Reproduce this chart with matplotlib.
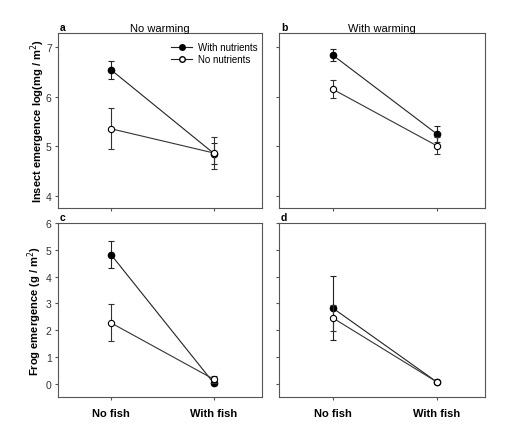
import numpy as np
import matplotlib.pyplot as plt
from matplotlib.lines import Line2D

plt.rcParams['font.family'] = ['Liberation Sans', 'DejaVu Sans']
plt.rcParams['font.size'] = 7.5

groups = ['No fish', 'With fish']
x = np.array([1, 2])

# insect emergence, no warming (a) / with warming (b)
insect_nowarm_nut = [6.54, 4.85]
insect_nowarm_nut_err = [0.18, 0.21]
insect_nowarm_none = [5.35, 4.86]
insect_nowarm_none_err = [0.41, 0.32]
insect_warm_nut = [6.84, 5.25]
insect_warm_nut_err = [0.13, 0.16]
insect_warm_none = [6.15, 5.01]
insect_warm_none_err = [0.18, 0.17]

# frog emergence, no warming (c) / with warming (d)
frog_nowarm_nut = [4.82, 0.01]
frog_nowarm_nut_err = [0.50, 0.05]
frog_nowarm_none = [2.27, 0.16]
frog_nowarm_none_err = [0.69, 0.14]
frog_warm_nut = [2.83, 0.07]
frog_warm_nut_err = [1.20, 0.05]
frog_warm_none = [2.46, 0.07]
frog_warm_none_err = [0.49, 0.05]

fig = plt.figure(figsize=(5.2, 4.35), dpi=100)
axa = fig.add_axes([0.1115, 0.5195, 0.392, 0.402])
axb = fig.add_axes([0.5365, 0.5195, 0.396, 0.402])
axc = fig.add_axes([0.1115, 0.085, 0.392, 0.40])
axd = fig.add_axes([0.5365, 0.085, 0.396, 0.40])


def draw(ax, nut, nut_err, none, none_err):
    ax.errorbar(x, nut, yerr=nut_err, color='#222222', marker='o', markersize=4.5,
                markerfacecolor='black', markeredgecolor='black', lw=0.8,
                elinewidth=0.8, capsize=2.5, capthick=0.8, zorder=3)
    ax.errorbar(x, none, yerr=none_err, color='#333333', marker='o', markersize=4.5,
                markerfacecolor='white', markeredgecolor='black', mew=0.8, lw=0.8,
                elinewidth=0.8, capsize=2.5, capthick=0.8, zorder=4)
    ax.set_xlim(0.485, 2.465)
    ax.set_xticks(x)
    ax.tick_params(direction='out', length=2.5, width=0.8, pad=2, colors='#555555',
                   labelcolor='#333333', labelsize=7.5)
    for s in ax.spines.values():
        s.set_color('#555555')
        s.set_linewidth(0.8)


draw(axa, insect_nowarm_nut, insect_nowarm_nut_err, insect_nowarm_none, insect_nowarm_none_err)
draw(axb, insect_warm_nut, insect_warm_nut_err, insect_warm_none, insect_warm_none_err)
draw(axc, frog_nowarm_nut, frog_nowarm_nut_err, frog_nowarm_none, frog_nowarm_none_err)
draw(axd, frog_warm_nut, frog_warm_nut_err, frog_warm_none, frog_warm_none_err)

for ax in (axa, axb):
    ax.set_ylim(3.75, 7.28)
    ax.set_yticks([4, 5, 6, 7])
    ax.set_xticklabels([])
for ax in (axc, axd):
    ax.set_ylim(-0.5, 6)
    ax.set_yticks([0, 1, 2, 3, 4, 5, 6])
    ax.set_xticklabels(groups, fontweight='bold', fontsize=8, color='black')
    ax.tick_params(axis='x', pad=5.5)
for ax in (axb, axd):
    ax.set_yticklabels([])

axa.set_ylabel('Insect emergence log(mg / m$^2$)', fontweight='bold', fontsize=8, labelpad=-1)
axc.set_ylabel('Frog emergence (g / m$^2$)', fontweight='bold', fontsize=8, labelpad=1.5)
axa.set_title('No warming', fontsize=8, pad=1)
axb.set_title('With warming', fontsize=8, pad=1)

for ax, lab in zip((axa, axb, axc, axd), 'abcd'):
    ax.text(0.01, 1.005, lab, transform=ax.transAxes, fontweight='bold',
            fontsize=7.5, ha='left', va='bottom')

handles = [Line2D([], [], color='#222222', lw=0.8, marker='o', markersize=4,
                  markerfacecolor='black', markeredgecolor='black'),
           Line2D([], [], color='#222222', lw=0.8, marker='o', markersize=4,
                  markerfacecolor='white', markeredgecolor='black')]
axa.legend(handles, ['With nutrients', 'No nutrients'], loc='upper right',
           bbox_to_anchor=(1.0, 0.972), frameon=False, fontsize=7,
           handlelength=2.2, handletextpad=0.6, borderpad=0.1,
           borderaxespad=0.3, labelspacing=0.25)

plt.savefig('out.png', dpi=100)
